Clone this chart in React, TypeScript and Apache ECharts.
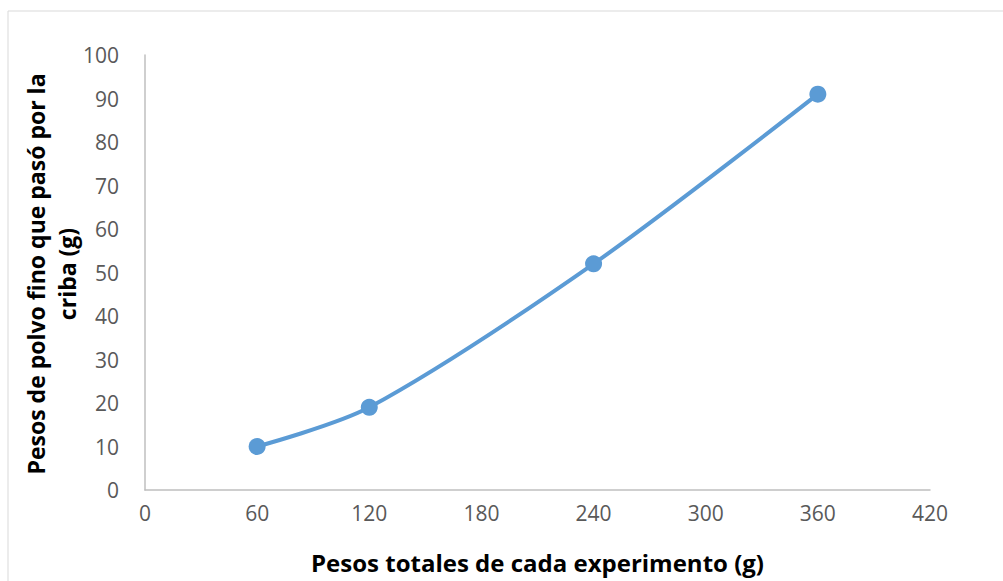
import React, { useEffect, useRef } from "react";
import * as echarts from "echarts";

const xValues = [60, 120, 240, 360];
const yValues = [10, 19, 52, 91];
const xTitle = "Pesos totales de cada experimento (g)";
const yTitle = "Pesos de polvo fino que pasó por la\ncriba (g)";

export default function App() {
  const ref = useRef<HTMLDivElement>(null);
  useEffect(() => {
    if (!ref.current) return;
    const chart = echarts.init(ref.current, null, { renderer: "svg" });
    const font = "'Open Sans', 'Liberation Sans', sans-serif";
    chart.setOption({
      animation: false,
      backgroundColor: "#fff",
      graphic: [
        {
          type: "rect",
          shape: { x: 8, y: 11, width: 1010, height: 600 },
          style: { fill: "none", stroke: "#d9d9d9", lineWidth: 1 },
          silent: true,
        },
        {
          type: "text",
          x: 51,
          y: 274,
          rotation: Math.PI / 2,
          style: {
            text: yTitle,
            fontFamily: font,
            fontSize: 23,
            fontWeight: "bold",
            fill: "#000",
            lineHeight: 31,
            align: "center",
            verticalAlign: "middle",
          },
          silent: true,
        },
      ],
      grid: { left: 145, right: 73, top: 55, bottom: 91 },
      xAxis: {
        type: "value",
        min: 0,
        max: 420,
        interval: 60,
        name: xTitle,
        nameLocation: "middle",
        nameGap: 60,
        nameTextStyle: { fontFamily: font, fontSize: 24, fontWeight: "bold", color: "#000" },
        axisLine: { show: true, lineStyle: { color: "#bfbfbf", width: 1.5 } },
        axisTick: { show: false },
        splitLine: { show: false },
        axisLabel: { margin: 12, fontFamily: font, fontSize: 21, color: "#595959" },
      },
      yAxis: {
        type: "value",
        min: 0,
        max: 100,
        interval: 10,
        axisLine: { show: true, lineStyle: { color: "#bfbfbf", width: 1.5 } },
        axisTick: { show: false },
        splitLine: { show: false },
        axisLabel: { margin: 26, fontFamily: font, fontSize: 21, color: "#595959" },
      },
      series: [
        {
          type: "line",
          data: xValues.map((x, i) => [x, yValues[i]]),
          smooth: 0.3,
          symbol: "circle",
          symbolSize: 17,
          lineStyle: { color: "#5b9bd5", width: 4 },
          itemStyle: { color: "#5b9bd5" },
        },
      ],
    });
    return () => chart.dispose();
  }, []);
  return <div ref={ref} style={{ width: 1003, height: 581, position: "absolute", left: 0, top: 0 }} />;
}
